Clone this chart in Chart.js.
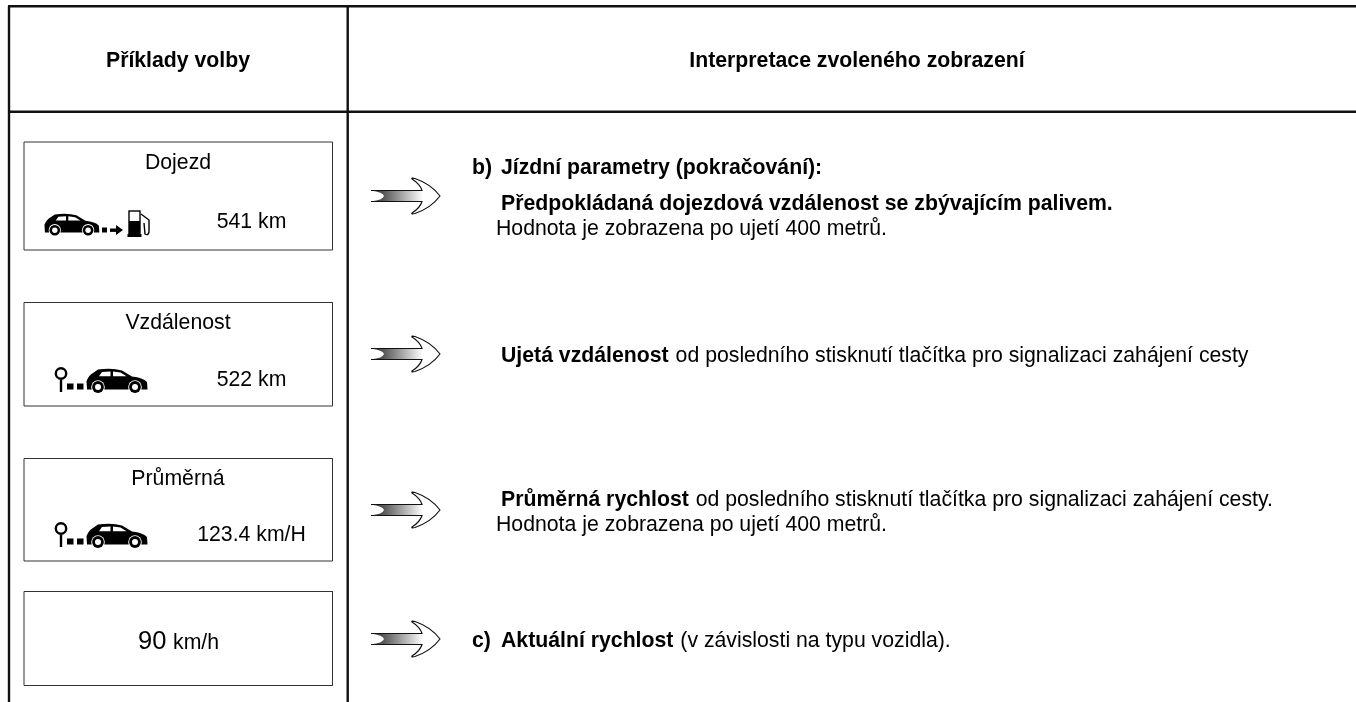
<!DOCTYPE html>
<html>
<head>
<meta charset="utf-8">
<title>Příklady volby</title>
<script src="https://cdn.jsdelivr.net/npm/chart.js@4"></script>
<style>
  html, body { margin: 0; padding: 0; background: #fff; overflow: hidden; }
  canvas { display: block; }
</style>
</head>
<body>
<canvas id="chart" width="1356" height="702"></canvas>
<script>
// texty tabulky
const headers = ['Příklady volby', 'Interpretace zvoleného zobrazení'];
const boxTitles = ['Dojezd', 'Vzdálenost', 'Průměrná'];
const boxValues = ['541 km', '522 km', '123.4 km/H'];
const speedValue = '90';
const speedUnit = 'km/h';
const listMarks = ['b)', 'c)'];
const interpretation = [
  { bold: 'Jízdní parametry (pokračování):' },
  { bold: 'Předpokládaná dojezdová vzdálenost se zbývajícím palivem.' },
  { normal: 'Hodnota je zobrazena po ujetí 400 metrů.' },
  { bold: 'Ujetá vzdálenost', normal: ' od posledního stisknutí tlačítka pro signalizaci zahájení cesty' },
  { bold: 'Průměrná rychlost', normal: ' od posledního stisknutí tlačítka pro signalizaci zahájení cesty.' },
  { normal: 'Hodnota je zobrazena po ujetí 400 metrů.' },
  { bold: 'Aktuální rychlost', normal: ' (v závislosti na typu vozidla).' }
];

// mřížka tabulky
const columnRules = [9, 347.7];
const rowRules = [6.2, 111.7];
const boxLeft = 24;
const boxRight = 332.5;
const boxTops = [142, 302.5, 458.5, 591.5];
const boxBottoms = [250, 406, 561, 685.5];
const arrowRows = [196, 354, 510, 639];
const interpretationX = [501, 501, 496, 501, 501, 496, 501];
const interpretationY = [174, 210, 235, 362, 506, 531, 647];
const markY = [174, 647];
const titleRows = [169, 329, 485];
const valueRows = [228, 386, 541];
const fontPx = 21.25;

// ikona auta, kreslená do pomocného plátna
function drawCar(ctx, x, y, k) {
  ctx.save();
  ctx.translate(x, y);
  ctx.scale(k, k);
  ctx.fillStyle = '#000';
  ctx.beginPath();
  ctx.moveTo(1, 20);
  ctx.lineTo(0.5, 12);
  ctx.quadraticCurveTo(3, 6, 7, 4);
  ctx.lineTo(12, 0.5);
  ctx.quadraticCurveTo(26, -1.5, 36, 1.5);
  ctx.lineTo(46, 7.5);
  ctx.quadraticCurveTo(57, 8.5, 61, 13);
  ctx.lineTo(61.5, 20.5);
  ctx.lineTo(1, 20.5);
  ctx.closePath();
  ctx.fill();
  ctx.fillStyle = '#fff';
  ctx.beginPath();
  ctx.moveTo(13, 7.2);
  ctx.lineTo(16, 3);
  ctx.lineTo(24.5, 2.6);
  ctx.lineTo(24.5, 7.2);
  ctx.closePath();
  ctx.moveTo(27, 2.6);
  ctx.lineTo(34.5, 3.6);
  ctx.lineTo(40.5, 7.2);
  ctx.lineTo(27, 7.2);
  ctx.closePath();
  ctx.fill();
  [12, 49].forEach(cx => {
    ctx.fillStyle = '#fff';
    ctx.beginPath();
    ctx.arc(cx, 18, 6.8, 0, Math.PI * 2);
    ctx.fill();
    ctx.fillStyle = '#000';
    ctx.beginPath();
    ctx.arc(cx, 18, 5.9, 0, Math.PI * 2);
    ctx.fill();
    ctx.fillStyle = '#fff';
    ctx.beginPath();
    ctx.arc(cx, 18, 3, 0, Math.PI * 2);
    ctx.fill();
  });
  ctx.restore();
}

function makeCanvas(w, h, paint) {
  const c = document.createElement('canvas');
  c.width = w;
  c.height = h;
  const ctx = c.getContext('2d');
  ctx.filter = 'blur(0.45px)';
  paint(ctx);
  return c;
}

// auto -> tankování
const fuelIcon = makeCanvas(112, 32, ctx => {
  drawCar(ctx, 2, 6, 0.9);
  ctx.fillStyle = '#000';
  ctx.fillRect(60, 19.5, 5, 5);
  ctx.fillRect(68, 20.5, 7, 3.4);
  ctx.beginPath();
  ctx.moveTo(74, 17);
  ctx.lineTo(81, 22);
  ctx.lineTo(74, 27);
  ctx.closePath();
  ctx.fill();
  ctx.strokeStyle = '#000';
  ctx.lineWidth = 1.4;
  ctx.strokeRect(87, 3, 11, 24);
  ctx.fillRect(87, 13, 11, 14);
  ctx.fillRect(85.5, 26, 14, 3);
  ctx.beginPath();
  ctx.moveTo(99, 6);
  ctx.lineTo(107, 12);
  ctx.lineTo(107, 24);
  ctx.quadraticCurveTo(106, 28, 103, 26);
  ctx.lineTo(102, 15);
  ctx.stroke();
});

// značka startu -> auto
const tripIcon = makeCanvas(100, 32, ctx => {
  ctx.strokeStyle = '#000';
  ctx.lineWidth = 2.4;
  ctx.beginPath();
  ctx.arc(12, 9.5, 5.2, 0, Math.PI * 2);
  ctx.moveTo(12, 14.5);
  ctx.lineTo(12, 28);
  ctx.stroke();
  ctx.fillStyle = '#000';
  ctx.fillRect(18, 19.5, 6.5, 6);
  ctx.fillRect(28, 19.5, 6.5, 6);
  drawCar(ctx, 37, 5, 1);
});

// šipka s přechodem
const arrowIcon = makeCanvas(74, 40, ctx => {
  ctx.filter = 'none';
  const grad = ctx.createLinearGradient(2, 0, 54, 0);
  grad.addColorStop(0, '#222');
  grad.addColorStop(1, '#fff');
  ctx.fillStyle = grad;
  ctx.beginPath();
  ctx.moveTo(2, 14.5);
  ctx.lineTo(53, 14.5);
  ctx.lineTo(53, 25.5);
  ctx.lineTo(2, 25.5);
  ctx.quadraticCurveTo(14, 24, 15, 20);
  ctx.quadraticCurveTo(14, 16, 2, 14.5);
  ctx.closePath();
  ctx.fill();
  ctx.strokeStyle = '#111';
  ctx.lineWidth = 1.2;
  ctx.beginPath();
  ctx.moveTo(2, 14.5);
  ctx.lineTo(53, 14.5);
  ctx.quadraticCurveTo(51, 8, 43, 3);
  ctx.quadraticCurveTo(42, 1.5, 46, 2.5);
  ctx.quadraticCurveTo(62, 8, 71, 20);
  ctx.quadraticCurveTo(62, 32, 46, 37.5);
  ctx.quadraticCurveTo(42, 38.5, 43, 37);
  ctx.quadraticCurveTo(51, 32, 53, 25.5);
  ctx.lineTo(2, 25.5);
  ctx.stroke();
});

const ruleColor = '#111';
const lineSet = (data, width, color) => ({
  data, showLine: true, pointRadius: 0, borderWidth: width, borderColor: color, fill: false, tension: 0
});

const datasets = [];
// čáry tabulky
rowRules.forEach(y => datasets.push(lineSet([{ x: columnRules[0] - 1, y }, { x: 1356, y }], 2.4, ruleColor)));
columnRules.forEach(x => datasets.push(lineSet([{ x, y: rowRules[0] }, { x, y: 702 }], 2.4, ruleColor)));
// rámečky displeje
boxTops.forEach((top, i) => {
  datasets.push(lineSet([
    { x: boxLeft, y: top }, { x: boxRight, y: top },
    { x: boxRight, y: boxBottoms[i] }, { x: boxLeft, y: boxBottoms[i] },
    { x: boxLeft, y: top }
  ], 1, '#333'));
});
// šipky a ikony
datasets.push({ data: arrowRows.map(y => ({ x: 406, y })), pointStyle: arrowIcon, showLine: false });
datasets.push({ data: [{ x: 98, y: 224 }], pointStyle: fuelIcon, showLine: false });
datasets.push({ data: [{ x: 99, y: 380 }, { x: 99, y: 535 }], pointStyle: tripIcon, showLine: false });

// texty se kreslí přes měřítka grafu
const tableText = {
  id: 'tableText',
  afterDatasetsDraw(chart) {
    const { ctx, scales: { x, y } } = chart;
    const put = (text, px, py, font, align = 'left') => {
      ctx.font = font;
      ctx.textAlign = align;
      ctx.fillText(text, x.getPixelForValue(px), y.getPixelForValue(py));
      return ctx.measureText(text).width;
    };
    const family = '"Liberation Sans", Arial, sans-serif';
    const normal = `${fontPx}px ${family}`;
    const bold = `bold ${fontPx}px ${family}`;
    ctx.save();
    ctx.fillStyle = '#000';
    ctx.textBaseline = 'alphabetic';
    put(headers[0], 178, 67, bold, 'center');
    put(headers[1], 857, 67, bold, 'center');
    boxTitles.forEach((t, i) => put(t, 178, titleRows[i], normal, 'center'));
    boxValues.forEach((t, i) => put(t, 251.5, valueRows[i], normal, 'center'));
    put(speedValue, 138, 649, `25.5px ${family}`);
    put(speedUnit, 173, 649, normal);
    listMarks.forEach((t, i) => put(t, 472, markY[i], bold));
    interpretation.forEach((line, i) => {
      let px = interpretationX[i];
      if (line.bold) px += put(line.bold, px, interpretationY[i], bold) + 1;
      if (line.normal) put(line.normal, px, interpretationY[i], normal);
    });
    ctx.restore();
  }
};

new Chart(document.getElementById('chart'), {
  type: 'scatter',
  data: { datasets },
  plugins: [tableText],
  options: {
    responsive: false,
    animation: false,
    layout: { padding: 0, autoPadding: false },
    plugins: { legend: { display: false }, tooltip: { enabled: false } },
    scales: {
      x: { type: 'linear', min: 0, max: 1356, display: false },
      y: { type: 'linear', min: 0, max: 702, reverse: true, display: false }
    }
  }
});
</script>
</body>
</html>
